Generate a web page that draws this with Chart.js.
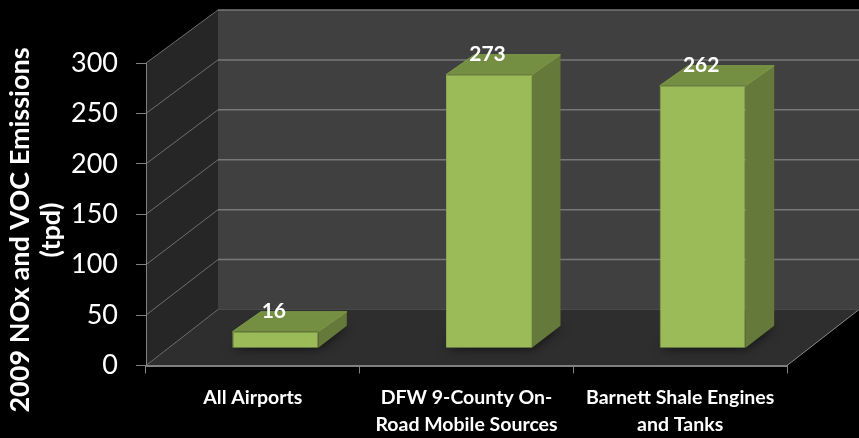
<!DOCTYPE html>
<html>
<head>
<meta charset="utf-8">
<style>html,body{margin:0;padding:0;background:#000}canvas{display:block}</style>
<script src="https://cdn.jsdelivr.net/npm/chart.js@4"></script>
</head>
<body>
<canvas id="c" width="859" height="438"></canvas>
<script>
const categories = [["All Airports"], ["DFW 9-County On-", "Road Mobile Sources"], ["Barnett Shale Engines", "and Tanks"]];
const emissions = [16, 273, 262];
const yTicks = [0, 50, 100, 150, 200, 250, 300];
const yTitleLines = ["2009 NOx and VOC Emissions", "(tpd)"];

const FONT = "Lato";
const WALL_DX = 72, WALL_DY0 = 56, WALL_DY300 = 53;
const BAR_SHIFT = 22.5, BAR_DX = 28.5, BAR_DY_TOP = 20, BAR_DY_BASE = 22;

function poly(ctx, pts, fill) {
  ctx.beginPath();
  pts.forEach((p, i) => i ? ctx.lineTo(p[0], p[1]) : ctx.moveTo(p[0], p[1]));
  ctx.closePath();
  if (fill) { ctx.fillStyle = fill; ctx.fill(); }
}
function line(ctx, pts, color, w) {
  ctx.beginPath();
  pts.forEach((p, i) => i ? ctx.lineTo(p[0], p[1]) : ctx.moveTo(p[0], p[1]));
  ctx.strokeStyle = color; ctx.lineWidth = w; ctx.stroke();
}

const walls = {
  id: "walls",
  beforeDraw(chart) {
    const ctx = chart.ctx, y = chart.scales.y, a = chart.chartArea;
    const back = v => y.getPixelForValue(v) - (WALL_DY0 + (WALL_DY300 - WALL_DY0) * v / 300);
    const f = v => y.getPixelForValue(v);
    ctx.save();
    ctx.fillStyle = "#000";
    ctx.fillRect(0, 0, chart.width, chart.height);
    poly(ctx, [[a.left + WALL_DX, back(300)], [a.right + WALL_DX, back(300)], [a.right + WALL_DX, back(0)], [a.left + WALL_DX, back(0)]], "#404040");
    poly(ctx, [[a.left, f(300)], [a.left + WALL_DX, back(300)], [a.left + WALL_DX, back(0)], [a.left, f(0)]], "#262626");
    poly(ctx, [[a.left, f(0)], [a.right, f(0)], [a.right + WALL_DX, back(0)], [a.left + WALL_DX, back(0)]], "#2e2e2e");
    yTicks.forEach(v => {
      if (v > 0) line(ctx, [[a.left + WALL_DX, back(v)], [a.right + WALL_DX, back(v)]], "#787878", 1.5);
      line(ctx, [[a.left, f(v)], [a.left + WALL_DX, back(v)]], "#6e6e6e", 1);
    });
    line(ctx, [[a.right, f(0)], [a.right + WALL_DX, back(0)]], "#8a8a8a", 1);
    line(ctx, [[a.left + WALL_DX, back(0)], [a.right + WALL_DX, back(0)]], "#4a4a4a", 1);
    ctx.restore();
  },
  beforeDatasetsDraw(chart) {
    const ctx = chart.ctx;
    chart.getDatasetMeta(0).data.forEach(b => {
      const x1 = b.x - b.width / 2 + BAR_SHIFT, x2 = b.x + b.width / 2 + BAR_SHIFT;
      ctx.save();
      // soft shadow on the floor
      ctx.shadowColor = "rgba(0,0,0,0.75)";
      ctx.shadowBlur = 12;
      poly(ctx, [[x1, b.base], [x2, b.base], [x2 + BAR_DX, b.base - BAR_DY_BASE], [x1 + BAR_DX, b.base - BAR_DY_BASE]], "#222");
      ctx.restore();
      ctx.save();
      poly(ctx, [[x2, b.y], [x2 + BAR_DX, b.y - BAR_DY_TOP], [x2 + BAR_DX, b.base - BAR_DY_BASE], [x2, b.base]], "#65793a");
      poly(ctx, [[x1, b.y], [x2, b.y], [x2 + BAR_DX, b.y - BAR_DY_TOP], [x1 + BAR_DX, b.y - BAR_DY_TOP]], "#748f41");
      line(ctx, [[x1, b.y], [x1 + BAR_DX, b.y - BAR_DY_TOP], [x2 + BAR_DX, b.y - BAR_DY_TOP]], "#7f9c48", 1);
      line(ctx, [[x2, b.y], [x2 + BAR_DX, b.y - BAR_DY_TOP]], "#7f9c48", 1);
      ctx.restore();
    });
  },
  beforeDatasetDraw(chart) { chart.ctx.save(); chart.ctx.translate(BAR_SHIFT, 0); },
  afterDatasetDraw(chart) { chart.ctx.restore(); },
  afterDatasetsDraw(chart) {
    const ctx = chart.ctx;
    ctx.save();
    ctx.fillStyle = "#fff";
    ctx.font = "bold 21px " + FONT;
    ctx.textAlign = "center";
    ctx.textBaseline = "middle";
    chart.getDatasetMeta(0).data.forEach((b, i) => {
      ctx.fillText(String(emissions[i]), b.x + BAR_SHIFT - 1.5, b.y - 20);
    });
    ctx.restore();
    // rotated axis title
    ctx.save();
    ctx.fillStyle = "#fff";
    ctx.font = "bold 27px " + FONT;
    ctx.textAlign = "center";
    ctx.textBaseline = "middle";
    ctx.translate(20, 230);
    ctx.rotate(-Math.PI / 2);
    yTitleLines.forEach((t, i) => ctx.fillText(t, 0, i * 31));
    ctx.restore();
  }
};

new Chart(document.getElementById("c"), {
  type: "bar",
  data: {
    labels: categories,
    datasets: [{
      data: emissions,
      yAxisID: "yBar",
      backgroundColor: "#9bbb59",
      borderColor: "#8aa94e",
      borderWidth: 1,
      categoryPercentage: 1,
      barPercentage: 0.4025
    }]
  },
  plugins: [walls],
  options: {
    responsive: false,
    animation: false,
    devicePixelRatio: 1,
    layout: { padding: { top: 63, right: 72, left: 0, bottom: 0 } },
    plugins: { legend: { display: false }, tooltip: { enabled: false }, title: { display: false } },
    scales: {
      x: {
        afterFit(s) { s.height = 72.5; },
        grid: { drawOnChartArea: false, color: "#808080", tickLength: 8, offset: true },
        border: { color: "#808080", width: 2 },
        ticks: { color: "#fff", font: { family: FONT, size: 19.5, weight: "bold", lineHeight: 1.385 }, maxRotation: 0, minRotation: 0, autoSkip: false, padding: 11 }
      },
      y: {
        min: 0, max: 300,
        afterFit(s) { s.width = 146; },
        afterBuildTicks(s) { s.ticks = yTicks.map(v => ({ value: v })); },
        grid: { drawOnChartArea: false, color: "#808080", tickLength: 10 },
        border: { color: "#808080", width: 1 },
        ticks: { color: "#fff", font: { family: FONT, size: 27 }, padding: 18 }
      },
      yBar: {
        display: false,
        min: -17.8, max: 284.7
      }
    }
  }
});
</script>
</body>
</html>
